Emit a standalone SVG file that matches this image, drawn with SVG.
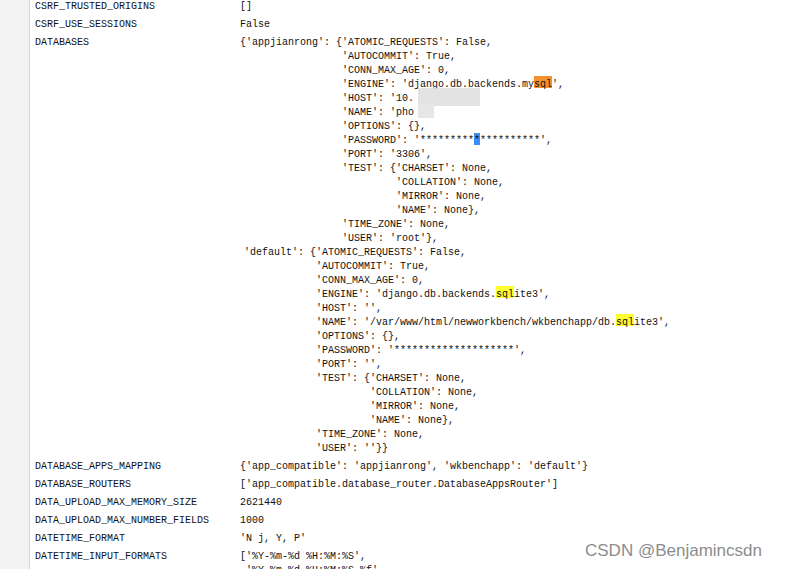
<svg xmlns="http://www.w3.org/2000/svg" width="794" height="569" viewBox="0 0 794 569">
<style>
text{font-family:"Liberation Mono",monospace;font-size:10px;fill:#111;white-space:pre}
.wm{font-family:"Liberation Sans",Arial,sans-serif;font-size:17px;fill:#8c8c8c}
</style>
<rect width="794" height="569" fill="#fff"/>
<rect width="29" height="569" fill="#f3f3f3"/>
<line x1="29.5" y1="0" x2="29.5" y2="569" stroke="#d6d6d6"/>
<g id="highlights">
<rect x="534" y="76" width="18" height="12" fill="#f5912d"/>
<rect x="474" y="133" width="6" height="12" fill="#3d8ff5"/>
<rect x="496" y="286" width="18" height="12" fill="#ffff30"/>
<rect x="616" y="314" width="18" height="12" fill="#ffff30"/>
</g>
<g id="keys">
<text x="35" y="9">CSRF_TRUSTED_ORIGINS</text>
<text x="35" y="27">CSRF_USE_SESSIONS</text>
<text x="35" y="45">DATABASES</text>
<text x="35" y="469">DATABASE_APPS_MAPPING</text>
<text x="35" y="487">DATABASE_ROUTERS</text>
<text x="35" y="505">DATA_UPLOAD_MAX_MEMORY_SIZE</text>
<text x="35" y="523">DATA_UPLOAD_MAX_NUMBER_FIELDS</text>
<text x="35" y="541">DATETIME_FORMAT</text>
<text x="35" y="559">DATETIME_INPUT_FORMATS</text>
</g>
<g id="values">
<text x="240" y="9">[]</text>
<text x="240" y="27">False</text>
<text x="240" y="45">{'appjianrong': {'ATOMIC_REQUESTS': False,</text>
<text x="342" y="59">'AUTOCOMMIT': True,</text>
<text x="342" y="73">'CONN_MAX_AGE': 0,</text>
<text x="342" y="87">'ENGINE': 'django.db.backends.mysql',</text>
<text x="342" y="101">'HOST': '10.</text>
<text x="342" y="115">'NAME': 'pho</text>
<text x="342" y="129">'OPTIONS': {},</text>
<text x="342" y="143">'PASSWORD': '********************',</text>
<text x="342" y="157">'PORT': '3306',</text>
<text x="342" y="171">'TEST': {'CHARSET': None,</text>
<text x="396" y="185">'COLLATION': None,</text>
<text x="396" y="199">'MIRROR': None,</text>
<text x="396" y="213">'NAME': None},</text>
<text x="342" y="227">'TIME_ZONE': None,</text>
<text x="342" y="241">'USER': 'root'},</text>
<text x="244" y="255">'default': {'ATOMIC_REQUESTS': False,</text>
<text x="316" y="269">'AUTOCOMMIT': True,</text>
<text x="316" y="283">'CONN_MAX_AGE': 0,</text>
<text x="316" y="297">'ENGINE': 'django.db.backends.sqlite3',</text>
<text x="316" y="311">'HOST': '',</text>
<text x="316" y="325">'NAME': '/var/www/html/newworkbench/wkbenchapp/db.sqlite3',</text>
<text x="316" y="339">'OPTIONS': {},</text>
<text x="316" y="353">'PASSWORD': '********************',</text>
<text x="316" y="367">'PORT': '',</text>
<text x="316" y="381">'TEST': {'CHARSET': None,</text>
<text x="370" y="395">'COLLATION': None,</text>
<text x="370" y="409">'MIRROR': None,</text>
<text x="370" y="423">'NAME': None},</text>
<text x="316" y="437">'TIME_ZONE': None,</text>
<text x="316" y="451">'USER': ''}}</text>
<text x="240" y="469">{'app_compatible': 'appjianrong', 'wkbenchapp': 'default'}</text>
<text x="240" y="487">['app_compatible.database_router.DatabaseAppsRouter']</text>
<text x="240" y="505">2621440</text>
<text x="240" y="523">1000</text>
<text x="240" y="541">'N j, Y, P'</text>
<text x="240" y="559">['%Y-%m-%d %H:%M:%S',</text>
<text x="246" y="573">'%Y-%m-%d %H:%M:%S.%f',</text>
</g>
<g id="blur">
<rect x="418" y="88" width="62" height="18" fill="#e0e0e0" opacity="0.9"/>
<rect x="418" y="104" width="16" height="14" fill="#e6e6e6"/>
</g>
<text class="wm" x="585" y="556">CSDN @Benjamincsdn</text>
</svg>
